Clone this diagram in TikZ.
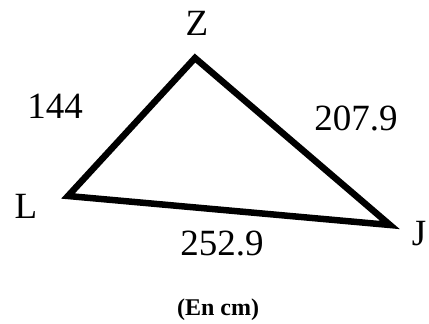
\documentclass[tikz,border=0pt]{standalone}
\usepackage{fontspec}
\setmainfont{Liberation Serif}
\begin{document}
\begin{tikzpicture}[x=1pt,y=-1pt,
  lbl/.style={anchor=base,inner sep=0pt,font=\fontsize{37}{40}\selectfont},
  note/.style={anchor=base,inner sep=0pt,font=\fontsize{24}{28}\selectfont\bfseries},
  edge/.style={line width=6.5pt,line join=miter}]
\useasboundingbox (0,0) rectangle (429,324);
\coordinate (Z) at (195,58);
\coordinate (L) at (68,196);
\coordinate (J) at (390,225);
\draw[edge] (L) -- (Z) -- (J) -- cycle;
\node[lbl] (tZ) at (197,35) {Z};
\node[lbl] (tL) at (26,218) {L};
\node[lbl] (tJ) at (419,245) {J};
\node[lbl] (a) at (55,118) {144};
\node[lbl] (b) at (356,130) {207.9};
\node[lbl] (c) at (222,255) {252.9};
\node[note] (n) at (218,315) {(En cm)};
\end{tikzpicture}
\end{document}
